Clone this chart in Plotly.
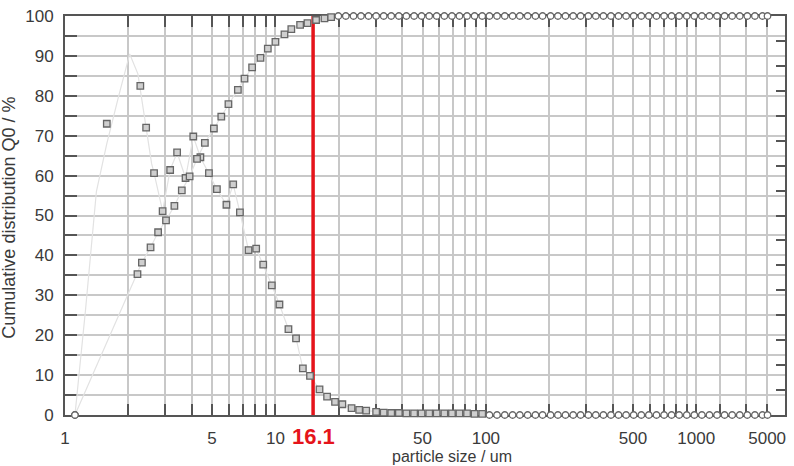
import math
import plotly.graph_objects as go

# ---------------- data ----------------
# cumulative distribution Q0 (%) – rising part
cum_x = [1.115, 2.21, 2.32, 2.55, 2.77, 3.02, 3.31, 3.59, 3.91, 4.24, 4.62, 5.10, 5.53,
         5.98, 6.63, 7.13, 7.75, 8.49, 9.20, 10.0, 11.04, 11.9, 13.1, 14.2, 15.6, 17.1, 18.4]
cum_y = [0, 35.3, 38.2, 42.0, 45.8, 48.8, 52.4, 56.3, 59.8, 64.2, 68.2, 71.8, 74.8,
         77.9, 81.5, 84.3, 87.1, 89.5, 91.8, 93.5, 95.4, 96.7, 97.8, 98.2, 99.0, 99.4, 99.7]
# cumulative plateau
plateau_x = [19.9, 21.6, 23.5, 25.5, 27.7, 30.1, 32.7, 35.5, 38.6, 41.9, 45.6, 49.5, 53.8,
             58.4, 63.5, 69.0, 74.9, 81.4, 88.4, 96.1, 104, 113, 123, 134, 145, 158, 172,
             186, 203, 220, 239, 260, 282, 307, 333, 362, 393, 427, 464, 504, 548, 595,
             647, 703, 763, 829, 901, 979, 1063, 1155, 1255, 1363, 1481, 1609, 1748,
             1899, 2063, 2180]
plateau_y = [100, 100, 100, 100, 100, 100, 100, 100, 100, 100, 100, 100, 100,
             100, 100, 100, 100, 100, 100, 100, 100, 100, 100, 100, 100, 100, 100,
             100, 100, 100, 100, 100, 100, 100, 100, 100, 100, 100, 100, 100, 100, 100,
             100, 100, 100, 100, 100, 100, 100, 100, 100, 100, 100, 100, 100,
             100, 100, 100]

# density distribution points
dens_x = [1.115, 1.58, 2.28, 2.43, 2.65, 2.91, 3.16, 3.41, 3.74, 4.07, 4.40, 4.83, 5.27,
          5.85, 6.30, 6.78, 7.45, 8.10, 8.75, 9.61, 10.45, 11.53, 12.53, 13.5, 14.6,
          16.2, 17.6, 19.2, 20.8, 23.0, 25.0, 27.0]
dens_y = [0, 73.0, 82.5, 72.0, 60.6, 51.1, 61.4, 65.8, 59.4, 69.8, 64.6, 60.6, 56.6,
          52.7, 57.8, 50.8, 41.3, 41.7, 37.7, 32.5, 27.7, 21.5, 19.2, 11.7, 9.8,
          6.4, 4.6, 3.3, 2.7, 1.7, 1.3, 1.1]
dens_tail_x = [30.1, 32.7, 35.5, 38.6, 41.9, 45.6, 49.5, 53.8, 58.4, 63.5, 69.0, 74.9,
               81.4, 88.4, 96.1, 104, 113, 123, 134, 145, 158, 172, 186, 203, 220, 239,
               260, 282, 307, 333, 362, 393, 427, 464, 504, 548, 595, 647, 703, 763, 829,
               901, 979, 1063, 1155, 1255, 1363, 1481, 1609, 1748, 1899, 2063, 2180]
dens_tail_y = [0.8, 0.6, 0.5, 0.5, 0.4, 0.4, 0.4, 0.4, 0.4, 0.4, 0.4, 0.4,
               0.4, 0.3, 0.3, 0, 0, 0, 0, 0, 0, 0, 0, 0, 0, 0,
               0, 0, 0, 0, 0, 0, 0, 0, 0, 0, 0, 0, 0, 0, 0,
               0, 0, 0, 0, 0, 0, 0, 0, 0, 0, 0, 0]
# faint curve head (drawn line before it joins the density points)
curve_head_x = [1.115, 1.25, 1.41, 1.58, 1.8, 2.03, 2.22, 2.43, 2.58, 2.65]
curve_head_y = [0, 26, 56, 68, 80, 90.5, 85.5, 72, 63, 60.6]

# marked size
d50_label = "16.1"
d50_pos = 15.1

# axis ticks
x_grid_vals = [1, 2, 3, 4, 5, 6, 7, 8, 9, 10, 20, 30, 40, 50, 60, 70, 80, 90, 100,
               200, 300, 400, 500, 600, 700, 800, 900, 1000, 1300, 1726, 2171]
x_tick_labels = {1: "1", 5: "5", 10: "10", 50: "50", 100: "100", 500: "500",
                 1000: "1000", 2171: "5000"}
y_tick_vals = [0, 5, 10, 15, 20, 25, 30, 35, 40, 45, 50, 55, 60, 65, 70, 75, 80, 85, 90, 95, 100]
y_tick_labels = ["0", "", "10", "", "20", "", "30", "", "40", "", "50", "", "60", "",
                 "70", "", "80", "", "90", "", "100"]
right_tick_vals = [0, 1, 2, 3, 4, 5, 6, 7, 8, 9, 10, 11, 12, 13, 14, 15, 16]

# ---------------- figure ----------------
FONT = "Liberation Sans, Arial, sans-serif"
MARK_EDGE = "#666666"
LINE_FAINT = "#e2e2e2"
TEXT = "#3a3a3a"


def symbols(ys):
    return ["circle" if (y >= 99.95 or y <= 0.05) else "square" for y in ys]


def fills(ys):
    return ["white" if (y >= 99.95 or y <= 0.05) else "#cfcfcf" for y in ys]


all_cum_x = cum_x + plateau_x
all_cum_y = cum_y + plateau_y
all_dens_x = dens_x + dens_tail_x
all_dens_y = dens_y + dens_tail_y
curve_x = curve_head_x + dens_x[5:] + dens_tail_x
curve_y = curve_head_y + dens_y[5:] + dens_tail_y

fig = go.Figure()
# faint lines
fig.add_trace(go.Scatter(x=all_cum_x, y=all_cum_y, mode="lines",
                         line=dict(color=LINE_FAINT, width=1.2), hoverinfo="skip",
                         showlegend=False))
fig.add_trace(go.Scatter(x=curve_x, y=curve_y, mode="lines",
                         line=dict(color=LINE_FAINT, width=1.2), hoverinfo="skip",
                         showlegend=False))
# red marker line
fig.add_trace(go.Scatter(x=[d50_pos, d50_pos], y=[0, 100], mode="lines",
                         line=dict(color="#e5141b", width=3.5), cliponaxis=False,
                         hoverinfo="skip", showlegend=False))
# markers
for xs, ys in ((all_dens_x, all_dens_y), (all_cum_x, all_cum_y)):
    fig.add_trace(go.Scatter(
        x=xs, y=ys, mode="markers", cliponaxis=False, showlegend=False,
        marker=dict(symbol=symbols(ys), size=6.5, color=fills(ys),
                    line=dict(color=MARK_EDGE, width=1.3))))
# dummy (invisible) trace to activate right axis
fig.add_trace(go.Scatter(x=[1], y=[0], yaxis="y2", mode="markers",
                         marker=dict(opacity=0), hoverinfo="skip", showlegend=False))

fig.update_layout(
    width=794, height=466,
    margin=dict(l=65, r=7, t=16, b=51),
    paper_bgcolor="white", plot_bgcolor="white",
    font=dict(family=FONT, color=TEXT),
    xaxis=dict(
        type="log", range=[0, math.log10(2640)],
        tickmode="array", tickvals=x_grid_vals,
        ticktext=[x_tick_labels.get(v, "") for v in x_grid_vals],
        ticks="inside", ticklen=11, tickwidth=2, tickcolor="#555555",
        showline=True, linewidth=2, linecolor="#555555", mirror="ticks",
        showgrid=True, gridcolor="#c8c8c8", gridwidth=1.6,
        tickfont=dict(size=17, family=FONT, color=TEXT),
        ticklabelstandoff=7, zeroline=False, layer="below traces",
    ),
    yaxis=dict(
        range=[0, 100], tickmode="array", tickvals=y_tick_vals, ticktext=y_tick_labels,
        ticks="inside", ticklen=12, tickwidth=2, tickcolor="#555555",
        showline=True, linewidth=2, linecolor="#555555", mirror=True,
        showgrid=True, gridcolor="#c8c8c8", gridwidth=1.6,
        tickfont=dict(size=17, family=FONT, color=TEXT),
        ticklabelstandoff=6, zeroline=False, layer="below traces",
    ),
    yaxis2=dict(
        overlaying="y", side="right", range=[0, 16], tickmode="array",
        tickvals=right_tick_vals, ticks="inside", ticklen=9, tickwidth=2,
        tickcolor="#555555", showticklabels=False, showgrid=False,
        showline=False, zeroline=False,
    ),
    annotations=[
        dict(text="<b>" + d50_label + "</b>", x=math.log10(d50_pos), xref="x",
             y=(415 - 436) / 399, yref="paper", xanchor="center", yanchor="middle",
             showarrow=False, font=dict(size=22, color="#e5141b", family=FONT)),
        dict(text="particle size / um", x=(453 - 65) / 722, xref="paper",
             y=(415 - 456) / 399, yref="paper", xanchor="center", yanchor="middle",
             showarrow=False, font=dict(size=16, color=TEXT, family=FONT)),
        dict(text="Cumulative distribution Q0 / %", x=(9 - 65) / 722, xref="paper",
             y=0.495, yref="paper", xanchor="center", yanchor="middle",
             textangle=-90, showarrow=False,
             font=dict(size=18, color=TEXT, family=FONT)),
    ],
)

fig.write_html("out.html")
